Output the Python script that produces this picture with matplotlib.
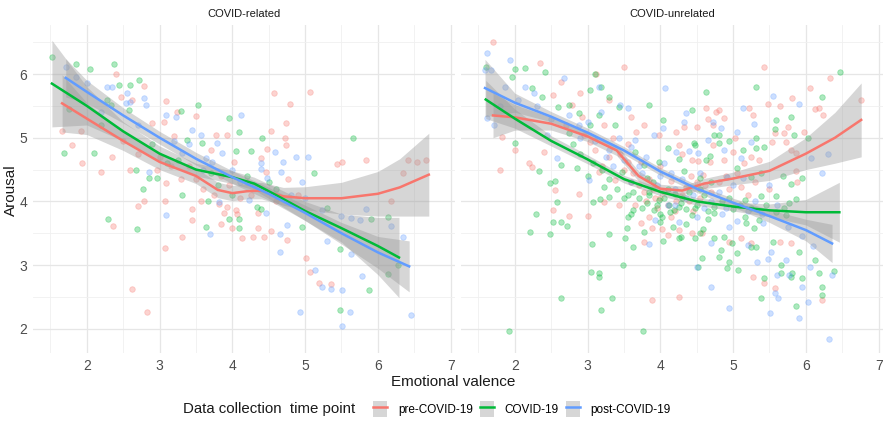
import numpy as np
import matplotlib.pyplot as plt
from matplotlib.lines import Line2D
from matplotlib.patches import Patch
from matplotlib.legend_handler import HandlerTuple

plt.rcParams['font.family'] = ['Liberation Sans', 'DejaVu Sans']

groups = ['pre-COVID-19', 'COVID-19', 'post-COVID-19']
colors = ['#F8766D', '#00BA38', '#619CFF']
panels = ['COVID-related', 'COVID-unrelated']

# ---- raw points (emotional valence, arousal) ----
rel_pre = [(2.4, 6.0), (2.78, 5.81), (2.47, 5.64), (2.62, 5.59), (3.09, 5.58), (3.24, 5.4), (3.5, 5.34),
           (2.9, 5.23), (3.06, 5.25), (1.66, 5.1), (1.92, 5.1), (1.79, 4.89), (1.93, 4.6), (2.19, 4.46),
           (2.6, 4.49), (3.2, 5.03), (3.77, 5.04), (3.93, 5.04), (4.02, 4.62), (3.71, 4.81), (3.09, 4.29),
           (2.96, 4.49), (2.34, 4.7), (4.57, 5.7), (5.07, 5.72), (4.79, 5.53), (4.74, 5.23), (4.53, 5.1),
           (4.72, 4.99), (4.74, 4.89), (4.48, 4.82), (4.39, 4.68), (5.44, 4.59), (5.51, 4.62), (5.84, 4.65),
           (6.42, 4.65), (6.54, 4.62), (6.66, 4.65), (6.35, 4.45), (4.46, 4.46), (4.76, 4.35), (2.36, 3.61),
           (2.7, 3.93), (2.78, 4.0), (3.07, 4.0), (3.07, 3.27), (3.31, 3.44), (3.45, 3.88), (3.45, 3.71),
           (3.84, 3.64), (3.99, 3.58), (4.06, 3.81), (4.13, 3.42), (4.28, 3.44), (4.43, 3.44), (4.53, 3.53),
           (4.75, 3.39), (4.35, 3.58), (4.35, 3.82), (5.01, 3.11), (5.07, 2.89), (5.19, 2.72), (5.36, 2.7),
           (2.62, 2.62), (2.83, 2.26), (6.18, 4.0), (3.57, 4.0), (3.93, 3.91), (3.88, 3.82), (4.05, 3.86),
           (3.82, 3.96), (3.3, 4.35), (3.6, 4.2), (3.75, 4.1), (4.1, 4.05), (4.2, 4.3), (3.4, 4.55),
           (2.7, 4.75), (3.85, 4.4), (3.15, 4.55), (3.5, 4.35), (3.95, 4.25), (4.25, 4.1), (4.6, 4.0),
           (4.9, 4.1), (2.5, 4.95), (3.0, 4.7)]
rel_covid = [(1.52, 6.27), (1.85, 6.16), (2.05, 6.08), (2.37, 6.16), (2.6, 5.83), (2.72, 5.9), (2.44, 5.83),
             (2.28, 5.6), (2.58, 5.43), (2.33, 5.51), (3.29, 5.42), (3.53, 5.51), (3.95, 5.31), (4.09, 5.09),
             (4.26, 4.79), (4.05, 4.79), (1.68, 4.76), (2.1, 4.76), (3.58, 4.92), (2.67, 4.49), (2.85, 4.37),
             (2.96, 4.37), (3.37, 4.96), (4.41, 4.99), (5.66, 4.99), (5.12, 4.45), (2.77, 4.19), (2.29, 3.72),
             (2.69, 3.57), (3.31, 4.1), (3.64, 3.6), (3.95, 3.72), (4.09, 3.58), (4.09, 3.72), (4.34, 3.91),
             (4.96, 3.6), (5.48, 3.25), (6.14, 3.75), (5.91, 3.72), (6.14, 2.86), (5.88, 2.61), (5.48, 2.3),
             (6.28, 3.0), (3.66, 4.0), (4.4, 3.88), (2.2, 5.2), (1.75, 5.45), (3.1, 4.6), (3.8, 4.25),
             (4.6, 4.2), (5.3, 3.9), (3.25, 4.65), (3.7, 4.45), (4.2, 4.4), (4.5, 4.3), (2.9, 4.9), (4.0, 4.1)]
rel_post = [(1.71, 6.11), (2.0, 5.86), (2.28, 5.8), (2.34, 5.8), (2.55, 5.7), (2.78, 5.62), (2.54, 5.54),
            (2.81, 5.51), (2.6, 5.56), (3.09, 5.36), (3.22, 5.33), (3.44, 5.12), (3.57, 5.04), (3.79, 4.92),
            (4.12, 5.36), (3.86, 4.76), (3.64, 4.68), (2.85, 4.46), (3.31, 4.76), (3.72, 4.62), (4.59, 4.78),
            (4.87, 4.7), (5.04, 4.7), (4.7, 4.62), (4.39, 4.51), (4.67, 4.46), (4.96, 4.3), (4.48, 4.37),
            (3.09, 3.79), (3.69, 3.49), (4.66, 3.49), (4.66, 3.2), (5.23, 3.87), (5.3, 3.38), (5.63, 3.17),
            (5.84, 3.88), (5.76, 3.71), (6.18, 3.61), (6.35, 3.44), (5.14, 2.92), (5.23, 2.66), (5.36, 2.62),
            (5.51, 2.61), (5.78, 2.83), (4.93, 2.26), (5.51, 2.04), (5.62, 2.26), (6.46, 2.21), (4.75, 3.63),
            (4.46, 3.82), (4.23, 4.02), (3.82, 3.99), (5.49, 3.77), (5.63, 3.74), (1.85, 5.95), (2.2, 5.4),
            (3.4, 4.9), (4.0, 4.5), (4.3, 4.25), (5.0, 4.05), (3.2, 4.95), (3.6, 4.5), (4.1, 4.3),
            (4.4, 4.6), (4.8, 4.1), (2.7, 5.2)]

unrel_pre = [(1.7, 6.5), (2.34, 6.17), (3.5, 6.11), (3.12, 6.0), (2.63, 5.87), (2.53, 5.67), (2.89, 5.7),
             (3.29, 5.59), (3.6, 5.33), (3.77, 5.2), (3.23, 5.2), (2.92, 5.33), (2.78, 5.51), (2.0, 4.81),
             (1.79, 4.49), (2.19, 4.6), (2.23, 4.54), (2.55, 4.18), (3.15, 4.46), (3.37, 4.34), (3.74, 4.62),
             (1.82, 5.01), (2.4, 4.78), (3.98, 5.04), (3.67, 5.09), (3.03, 4.93), (5.43, 6.11), (6.33, 5.94),
             (6.05, 5.78), (6.76, 5.59), (4.63, 5.46), (5.22, 5.46), (5.48, 5.53), (5.64, 5.5), (5.81, 5.62),
             (6.12, 5.45), (6.18, 5.46), (6.24, 5.36), (4.81, 5.43), (4.77, 5.4), (5.28, 5.36), (4.65, 5.29),
             (4.88, 5.31), (4.73, 5.2), (4.33, 5.17), (4.5, 5.17), (5.57, 5.07), (5.7, 5.07), (5.76, 5.17),
             (5.73, 4.93), (5.98, 5.09), (5.53, 4.93), (5.03, 4.99), (4.22, 5.09), (4.25, 4.89), (4.73, 4.89),
             (5.0, 4.78), (5.25, 4.7), (5.8, 4.81), (5.87, 4.76), (5.35, 4.65), (5.87, 4.48), (5.88, 4.3),
             (5.11, 4.23), (4.88, 4.65), (4.68, 4.62), (4.52, 4.63), (4.43, 4.65), (4.59, 4.41), (2.53, 3.87),
             (2.74, 3.77), (3.0, 3.77), (2.88, 4.12), (3.23, 3.99), (3.43, 3.94), (3.74, 3.66), (3.84, 3.76),
             (3.88, 3.58), (4.11, 3.47), (4.26, 3.55), (4.43, 3.5), (4.57, 3.5), (4.94, 3.36), (5.11, 3.43),
             (5.25, 3.35), (5.64, 3.36), (5.8, 3.35), (5.28, 2.81), (5.42, 2.72), (5.57, 2.64), (3.88, 2.45),
             (4.26, 2.5), (6.22, 2.45), (3.77, 3.36), (4.02, 3.57), (3.6, 4.3), (3.9, 4.2), (4.0, 4.05),
             (4.1, 3.95), (4.3, 4.1), (4.5, 4.3), (4.7, 4.15), (4.9, 4.4), (3.3, 4.7), (3.5, 4.5), (4.2, 3.85),
             (3.95, 3.9), (4.4, 4.0), (5.2, 4.1), (5.5, 4.2), (3.8, 4.0), (3.45, 4.75), (3.55, 4.62),
             (3.62, 4.45), (3.7, 4.25), (3.78, 4.15), (3.85, 4.35), (3.92, 4.05), (4.05, 4.15), (4.15, 4.32),
             (4.22, 4.0), (4.35, 4.22), (4.42, 4.4), (4.55, 4.05), (4.62, 4.25), (4.8, 4.3), (4.95, 4.2),
             (5.05, 4.45), (5.15, 4.6), (3.2, 4.55), (3.1, 4.8), (2.95, 5.05), (3.35, 5.0), (3.55, 4.9),
             (2.7, 5.2), (4.0, 4.55), (4.3, 4.75), (4.15, 3.75), (3.65, 3.95), (4.45, 3.85), (5.3, 4.3)]
unrel_covid = [(1.6, 6.11), (2.0, 6.08), (2.14, 6.09), (2.41, 6.03), (1.96, 5.95), (3.1, 6.0), (3.19, 5.8),
               (3.03, 5.75), (2.23, 5.78), (2.37, 5.64), (2.6, 5.48), (2.74, 5.51), (3.29, 5.64), (3.43, 5.48),
               (3.85, 5.51), (2.88, 5.39), (3.15, 5.36), (3.37, 5.2), (4.04, 5.28), (2.0, 4.92), (2.33, 4.48),
               (2.55, 4.32), (2.85, 4.52), (2.64, 4.57), (2.48, 4.29), (3.23, 4.23), (3.65, 4.78), (3.77, 4.57),
               (3.81, 4.37), (3.47, 4.46), (3.98, 4.62), (4.11, 4.84), (3.08, 4.6), (2.75, 5.07), (3.03, 5.2),
               (6.47, 6.03), (6.22, 5.64), (5.31, 5.8), (4.63, 5.72), (4.44, 5.43), (5.8, 5.33), (5.59, 5.28),
               (4.74, 5.04), (4.81, 5.04), (5.83, 5.04), (5.57, 5.14), (5.32, 4.99), (6.03, 4.99), (4.8, 4.92),
               (4.95, 4.95), (5.14, 4.81), (5.43, 4.85), (4.46, 4.92), (4.47, 4.88), (5.32, 4.84), (4.68, 4.71),
               (4.26, 4.67), (4.63, 4.65), (5.05, 4.52), (5.25, 4.38), (5.39, 4.45), (5.69, 4.4), (5.94, 4.37),
               (5.8, 4.27), (4.33, 4.48), (4.54, 4.37), (1.92, 1.97), (2.64, 2.48), (3.19, 2.29), (3.33, 2.48),
               (3.76, 1.97), (3.04, 2.89), (3.15, 2.88), (3.15, 2.81), (3.48, 3.0), (2.21, 3.52), (2.48, 3.49),
               (2.29, 3.8), (2.52, 3.68), (2.64, 3.68), (2.71, 3.61), (2.58, 3.99), (3.06, 3.33), (3.29, 3.49),
               (3.62, 3.28), (3.52, 3.43), (3.54, 3.58), (3.78, 3.52), (4.04, 3.38), (4.29, 3.44), (4.47, 3.43),
               (4.54, 3.5), (4.59, 3.57), (4.74, 3.43), (4.87, 3.44), (4.98, 3.35), (5.05, 3.19), (4.84, 3.24),
               (4.8, 3.13), (4.57, 3.11), (4.52, 2.97), (4.91, 2.95), (4.95, 3.05), (5.07, 2.92), (5.24, 3.28),
               (5.31, 3.28), (5.55, 3.36), (5.66, 3.0), (5.81, 2.88), (5.8, 2.81), (5.91, 3.2), (5.95, 2.8),
               (6.12, 3.08), (6.18, 2.88), (6.22, 2.66), (6.22, 2.53), (6.39, 2.91), (5.87, 2.36), (5.39, 2.48),
               (5.43, 2.8), (5.66, 2.88), (4.26, 3.43), (3.99, 3.68), (4.02, 3.76), (4.19, 3.87), (4.43, 3.79),
               (4.66, 3.72), (4.74, 3.82), (5.16, 3.76), (5.18, 3.66), (5.29, 3.58), (5.35, 3.71), (5.59, 3.83),
               (5.73, 3.78), (5.77, 3.97), (5.87, 4.04), (5.59, 4.08), (5.39, 4.08), (5.16, 4.02), (4.94, 4.05),
               (4.74, 3.91), (4.47, 3.89), (4.25, 3.91), (3.91, 3.87), (3.81, 3.97), (3.63, 3.87), (3.6, 3.8),
               (3.08, 3.99), (3.17, 4.04), (3.29, 4.07), (3.56, 4.1), (3.84, 4.1), (3.98, 4.02), (4.13, 3.83),
               (4.18, 3.6), (3.56, 3.76), (4.1, 4.2), (4.3, 4.05), (3.9, 4.3), (4.6, 4.1), (3.4, 4.2),
               (3.5, 4.05), (3.62, 4.15), (3.7, 4.05), (3.75, 3.9), (3.85, 4.15), (3.95, 3.95), (4.05, 4.05),
               (4.12, 3.95), (4.2, 4.12), (4.28, 3.98), (4.35, 3.88), (4.4, 4.15), (4.5, 3.95), (4.55, 4.2),
               (4.65, 3.85), (4.7, 4.3), (4.85, 4.0), (5.0, 3.88), (5.1, 3.95), (5.25, 3.9), (5.45, 3.95),
               (5.7, 3.9), (3.3, 4.35), (3.2, 4.5), (2.9, 4.75), (2.8, 4.9), (3.0, 4.4), (4.0, 3.8), (4.35, 3.65)]
unrel_post = [(1.62, 6.33), (1.93, 6.22), (1.59, 6.06), (1.67, 6.06), (1.86, 5.8), (2.14, 5.8), (2.26, 5.7),
              (2.67, 5.94), (3.15, 5.8), (3.44, 5.51), (3.56, 5.46), (4.07, 5.78), (1.62, 5.31), (1.71, 5.2),
              (2.88, 5.2), (3.19, 5.4), (3.43, 5.0), (3.65, 4.96), (3.91, 5.04), (4.04, 5.15), (3.02, 4.34),
              (2.58, 4.68), (2.44, 5.04), (5.55, 5.66), (5.13, 5.46), (5.91, 5.53), (5.29, 5.21), (4.35, 5.39),
              (4.33, 5.25), (4.73, 5.25), (4.83, 5.15), (5.05, 5.09), (5.25, 4.93), (4.66, 4.96), (4.88, 4.81),
              (6.31, 4.74), (6.07, 4.68), (6.22, 4.45), (5.5, 4.26), (5.11, 4.68), (4.52, 4.76), (4.39, 4.79),
              (4.22, 4.78), (5.14, 4.37), (4.91, 4.38), (3.85, 3.33), (4.5, 2.97), (4.69, 2.66), (4.95, 2.33),
              (4.69, 3.35), (5.2, 3.31), (5.33, 3.05), (5.48, 3.1), (5.52, 3.2), (5.6, 2.84), (5.73, 3.08),
              (5.77, 2.84), (5.95, 2.66), (6.03, 2.42), (5.91, 2.17), (5.51, 2.25), (5.57, 2.56), (5.61, 2.48),
              (6.06, 2.97), (6.36, 2.84), (6.32, 1.84), (5.41, 3.66), (4.94, 3.6), (4.25, 3.68), (3.92, 3.71),
              (1.8, 5.5), (2.5, 5.3), (2.9, 5.0), (3.3, 4.8), (3.7, 4.55), (4.0, 4.4), (4.2, 4.2), (4.45, 4.1),
              (4.7, 4.0), (4.9, 3.9), (5.2, 3.85), (3.6, 4.3), (4.1, 3.95), (3.1, 4.95), (3.25, 4.7),
              (3.35, 4.55), (3.5, 4.65), (3.6, 4.85), (3.75, 4.45), (3.8, 4.7), (3.95, 4.25), (4.05, 4.6),
              (4.15, 4.45), (4.3, 4.35), (4.35, 4.05), (4.55, 4.45), (4.6, 3.9), (4.8, 4.15), (4.85, 3.8),
              (5.0, 4.25), (5.05, 3.7), (5.3, 4.0), (5.4, 3.8), (5.6, 3.95), (5.75, 3.6), (5.95, 3.45),
              (6.1, 3.3), (2.75, 5.35), (2.3, 5.5), (2.05, 5.6), (3.0, 5.25), (4.5, 3.75), (4.2, 3.95)]

# ---- loess fits: x, fitted arousal, half-width of the 95% band ----
rel_pre_fx = [1.66, 2.0, 2.5, 3.0, 3.5, 3.8, 4.0, 4.2, 4.4, 4.7, 5.0, 5.5, 6.0, 6.3, 6.7]
rel_pre_fy = [5.54, 5.3, 4.95, 4.62, 4.4, 4.18, 4.13, 4.16, 4.17, 4.08, 4.05, 4.05, 4.12, 4.22, 4.42]
rel_pre_se = [0.45, 0.25, 0.15, 0.12, 0.12, 0.12, 0.12, 0.12, 0.13, 0.14, 0.18, 0.25, 0.35, 0.45, 0.65]
rel_covid_fx = [1.52, 2.0, 2.5, 3.0, 3.5, 4.0, 4.3, 4.6, 5.0, 5.5, 6.0, 6.29]
rel_covid_fy = [5.85, 5.5, 5.1, 4.75, 4.5, 4.38, 4.28, 4.1, 3.85, 3.58, 3.3, 3.12]
rel_covid_se = [0.68, 0.3, 0.15, 0.12, 0.1, 0.1, 0.1, 0.12, 0.15, 0.22, 0.45, 0.63]
rel_post_fx = [1.71, 2.0, 2.5, 3.0, 3.5, 4.0, 4.5, 5.0, 5.5, 6.0, 6.43]
rel_post_fy = [5.94, 5.72, 5.35, 5.0, 4.67, 4.38, 4.12, 3.82, 3.5, 3.2, 2.98]
rel_post_se = [0.3, 0.18, 0.12, 0.1, 0.1, 0.1, 0.1, 0.12, 0.17, 0.25, 0.4]

unrel_pre_fx = [1.7, 2.0, 2.5, 3.0, 3.4, 3.7, 4.0, 4.3, 4.6, 5.0, 5.5, 6.0, 6.4, 6.76]
unrel_pre_fy = [5.35, 5.32, 5.22, 5.02, 4.8, 4.4, 4.2, 4.17, 4.28, 4.36, 4.48, 4.75, 5.0, 5.28]
unrel_pre_se = [0.35, 0.2, 0.1, 0.08, 0.08, 0.08, 0.07, 0.07, 0.08, 0.1, 0.15, 0.25, 0.4, 0.58]
unrel_covid_fx = [1.6, 2.0, 2.5, 3.0, 3.5, 4.0, 4.5, 5.0, 5.5, 6.0, 6.46]
unrel_covid_fy = [5.6, 5.3, 4.95, 4.66, 4.35, 4.15, 4.0, 3.92, 3.86, 3.83, 3.83]
unrel_covid_se = [0.3, 0.15, 0.08, 0.07, 0.06, 0.06, 0.06, 0.07, 0.1, 0.2, 0.47]
unrel_post_fx = [1.59, 2.0, 2.5, 3.0, 3.5, 4.0, 4.5, 5.0, 5.5, 6.0, 6.36]
unrel_post_fy = [5.78, 5.55, 5.33, 5.08, 4.8, 4.47, 4.2, 3.98, 3.77, 3.55, 3.34]
unrel_post_se = [0.45, 0.15, 0.08, 0.07, 0.06, 0.06, 0.06, 0.07, 0.1, 0.17, 0.3]

panel_points = [[rel_pre, rel_covid, rel_post], [unrel_pre, unrel_covid, unrel_post]]
panel_fits = [
    [(rel_pre_fx, rel_pre_fy, rel_pre_se), (rel_covid_fx, rel_covid_fy, rel_covid_se),
     (rel_post_fx, rel_post_fy, rel_post_se)],
    [(unrel_pre_fx, unrel_pre_fy, unrel_pre_se), (unrel_covid_fx, unrel_covid_fy, unrel_covid_se),
     (unrel_post_fx, unrel_post_fy, unrel_post_se)],
]

W, H = 886, 429
fig = plt.figure(figsize=(W / 100, H / 100), dpi=100)
axes = [fig.add_axes([33 / W, 76 / H, 422 / W, 328 / H]),
        fig.add_axes([461 / W, 76 / H, 422 / W, 328 / H])]

for i, ax in enumerate(axes):
    # points first, like ggplot
    for pts, col in zip(panel_points[i], colors):
        p = np.array(pts)
        ax.scatter(p[:, 0], p[:, 1], s=16, color=col, alpha=0.32, linewidths=0.6, zorder=2)
    # smooth ribbons + lines
    for (fx, fy, se), col in zip(panel_fits[i], colors):
        fx, fy, se = np.array(fx), np.array(fy), np.array(se)
        ax.fill_between(fx, fy - se, fy + se, color='#999999', alpha=0.4, linewidth=0, zorder=3)
        ax.plot(fx, fy, color=col, lw=1.8, zorder=4)

    ax.set_xlim(1.26, 7.06)
    ax.set_ylim(1.62, 6.77)
    ax.set_xticks([2, 3, 4, 5, 6, 7])
    ax.set_xticks([1.5, 2.5, 3.5, 4.5, 5.5, 6.5], minor=True)
    ax.set_yticks([2, 3, 4, 5, 6])
    ax.set_yticks([2.5, 3.5, 4.5, 5.5, 6.5], minor=True)
    ax.grid(which='major', color='#E6E6E6', lw=0.9)
    ax.grid(which='minor', color='#F0F0F0', lw=0.6)
    ax.set_axisbelow(True)
    for s in ax.spines.values():
        s.set_visible(False)
    ax.tick_params(which='both', length=0, labelsize=10, labelcolor='#4D4D4D', pad=4)
    if i == 1:
        ax.tick_params(labelleft=False)
    ax.text(0.5, 1.034, panels[i], transform=ax.transAxes, ha='center', va='center',
            fontsize=8, color='#1A1A1A')

fig.text(453 / W, 1 - 382 / H, 'Emotional valence', ha='center', va='center', fontsize=11, color='#1A1A1A')
fig.text(11 / W, 1 - 190 / H, 'Arousal', ha='center', va='center', rotation=90, fontsize=11, color='#1A1A1A')

# legend: grey band with the coloured line on top, like the ggplot keys
fig.text(183 / W, 1 - 409 / H, 'Data collection  time point', ha='left', va='center', fontsize=10.8,
         color='#1A1A1A')
handles = [(Patch(facecolor='#D6D6D6', edgecolor='none'), Line2D([], [], color=c, lw=1.8)) for c in colors]
fig.legend(handles, groups, handler_map={tuple: HandlerTuple(ndivide=1, pad=0)},
           loc='center left', bbox_to_anchor=(373 / W, 1 - 409 / H), ncol=3, frameon=False,
           fontsize=8.5, handlelength=1.2, handleheight=1.6, handletextpad=0.9, columnspacing=0.6,
           borderaxespad=0, borderpad=0)

fig.savefig('out.png', dpi=100)
